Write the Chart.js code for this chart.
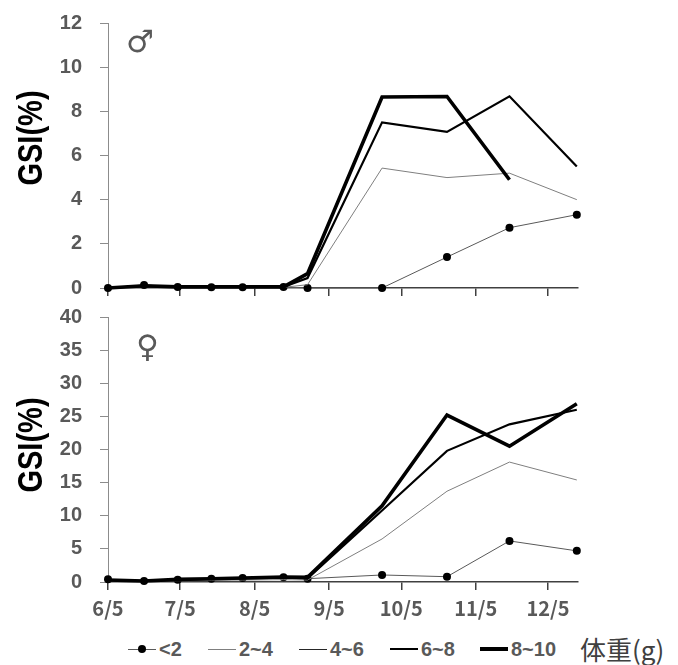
<!DOCTYPE html>
<html>
<head>
<meta charset="utf-8">
<script src="https://cdn.jsdelivr.net/npm/chart.js@4/dist/chart.umd.min.js"></script>
<style>
  html,body{margin:0;padding:0;background:#fff;}
  body{width:678px;height:665px;position:relative;overflow:hidden;font-family:"Liberation Sans",Arial,sans-serif;}
  canvas{position:absolute;left:0;}
  .sym{position:absolute;color:#595959;font-family:"DejaVu Sans",sans-serif;line-height:1;}
  .ytitle{position:absolute;font-family:"Liberation Sans",Arial,sans-serif;font-weight:bold;font-size:35px;color:#000;white-space:nowrap;transform-origin:center center;}
  .lg{position:absolute;top:638px;height:22px;display:flex;align-items:center;}
  .lg .mk{position:relative;width:28px;height:22px;}
  .lg .ln{position:absolute;left:0;right:0;top:50%;}
  .lg .dot{position:absolute;left:50%;top:50%;width:8px;height:8px;margin:-4px 0 0 -4px;border-radius:50%;background:#000;}
  .lg .tx{font-weight:bold;font-size:20px;color:#595959;margin-left:3px;}
  .unit{position:absolute;top:630px;left:580px;font-family:"Noto Sans CJK JP",sans-serif;font-size:26px;color:#404040;}
</style>
</head>
<body>
<canvas id="male" width="678" height="300" style="top:0"></canvas>
<canvas id="female" width="678" height="325" style="top:300px"></canvas>
<div class="sym" style="left:126px;top:26px;font-size:31px;">♂</div>
<div class="sym" style="left:136px;top:331px;font-size:31px;">♀</div>
<div class="ytitle" id="t1">GSI(%)</div>
<div class="ytitle" id="t2">GSI(%)</div>

<div class="lg" style="left:128px;"><div class="mk"><div class="ln" style="border-top:1px solid #595959;"></div><div class="dot"></div></div><span class="tx">&lt;2</span></div>
<div class="lg" style="left:208px;"><div class="mk"><div class="ln" style="border-top:1px solid #7f7f7f;"></div></div><span class="tx">2~4</span></div>
<div class="lg" style="left:299px;"><div class="mk"><div class="ln" style="border-top:1.5px solid #262626;"></div></div><span class="tx">4~6</span></div>
<div class="lg" style="left:390px;"><div class="mk"><div class="ln" style="border-top:2.5px solid #000;margin-top:-1px;"></div></div><span class="tx">6~8</span></div>
<div class="lg" style="left:480px;"><div class="mk"><div class="ln" style="border-top:4px solid #000;margin-top:-2px;"></div></div><span class="tx">8~10</span></div>
<div class="unit">体重(g)</div>

<script>
// ---- data ----
const sampleDates = ['6/5','6/20','7/4','7/18','7/31','8/17','8/27','9/27','10/24','11/19','12/17'];
const monthTicks = ['6/5','7/5','8/5','9/5','10/5','11/5','12/5'];
const seriesNames = ['<2','2~4','4~6','6~8','8~10'];

const maleLt2   = [0, 0.14, 0.04, 0.03, 0.03, 0.05, 0, 0, 1.4, 2.73, 3.32];
const male2to4  = [0, 0.08, 0.04, 0.03, 0.03, 0.03, 0.15, 5.43, 5.0, 5.2, 4.0];
const male4to6  = [];
const male6to8  = [0, 0.1, 0.05, 0.05, 0.05, 0.05, 0.45, 7.5, 7.07, 8.68, 5.5];
const male8to10 = [0, 0.1, 0.05, 0.05, 0.05, 0.05, 0.65, 8.65, 8.67, 4.9, null];

const femLt2   = [0.4, 0.15, 0.35, 0.5, 0.6, 0.7, 0.5, 1.06, 0.8, 6.2, 4.7];
const fem2to4  = [0.2, 0.1, 0.2, 0.25, 0.3, 0.35, 0.3, 6.5, 13.7, 18.1, 15.4];
const fem4to6  = [];
const fem6to8  = [0.3, 0.15, 0.35, 0.45, 0.55, 0.65, 0.55, 10.8, 19.8, 23.8, 26.0];
const fem8to10 = [0.3, 0.15, 0.4, 0.5, 0.6, 0.75, 0.7, 11.5, 25.2, 20.5, 26.9];

// ---- helpers ----
const monthStart = {6:0, 7:30, 8:61, 9:92, 10:122, 11:153, 12:183};
function dayOf(s){ const p = s.split('/').map(Number); return monthStart[p[0]] + p[1] - 5; }
const xs = sampleDates.map(dayOf);
const tickDays = monthTicks.map(dayOf);
function pts(arr){ return arr.map((v,i)=>({x: xs[i], y: v})); }

const styles = [
  {color:'#595959', width:1, radius:4},
  {color:'#7f7f7f', width:1, radius:0},
  {color:'#262626', width:1.5, radius:0},
  {color:'#000000', width:2.2, radius:0},
  {color:'#000000', width:3.6, radius:0}
];

function datasets(arrs){
  return arrs.map((a,i)=>({
    label: seriesNames[i],
    data: pts(a),
    borderColor: styles[i].color,
    borderWidth: styles[i].width,
    pointRadius: styles[i].radius,
    pointBackgroundColor: '#000',
    pointBorderColor: '#000',
    pointBorderWidth: 0,
    tension: 0,
    spanGaps: false,
    clip: false,
    order: 5 - i
  }));
}

function makeChart(id, arrs, ymax, ystep, showX, topPad, xHeight){
  return new Chart(document.getElementById(id), {
    type: 'line',
    data: { datasets: datasets(arrs) },
    options: {
      responsive: false,
      animation: false,
      events: [],
      layout: { padding: { top: topPad, right: 100, left: 0, bottom: 0 } },
      plugins: { legend: { display: false }, tooltip: { enabled: false } },
      scales: {
        x: {
          type: 'linear', min: 0, max: 195.5,
          border: { color: '#404040', width: 1.5 },
          grid: { drawOnChartArea: false, drawTicks: true, tickLength: 8, color: '#404040', lineWidth: 1.5 },
          ticks: {
            display: showX, padding: 6, color: '#595959',
            font: { family: '"Noto Sans CJK JP", sans-serif', size: 20, weight: 'bold' },
            callback: (v) => { const k = tickDays.indexOf(v); return k >= 0 ? monthTicks[k] : ''; }
          },
          afterBuildTicks: (axis) => { axis.ticks = tickDays.map(v => ({ value: v })); },
          afterFit: (s) => { s.height = xHeight; s.paddingLeft = 0; s.paddingRight = 0; }
        },
        y: {
          min: 0, max: ymax,
          border: { color: '#8c8c8c', width: 1 },
          grid: { drawOnChartArea: false, drawTicks: true, tickLength: 8, color: '#8c8c8c' },
          ticks: {
            stepSize: ystep, padding: 18, color: '#595959',
            font: { family: '"Liberation Sans", Arial, sans-serif', size: 20, weight: 'bold' }
          },
          afterFit: (s) => { s.width = 108; s.paddingTop = 8; s.paddingBottom = 8; }
        }
      }
    }
  });
}

const c1 = makeChart('male', [maleLt2, male2to4, male4to6, male6to8, male8to10], 12, 2, false, 23, 12);
const c2 = makeChart('female', [femLt2, fem2to4, fem4to6, fem6to8, fem8to10], 40, 5, true, 17, 43);

function placeTitle(el, cx, cy){
  const w = el.offsetWidth, h = el.offsetHeight;
  el.style.left = (cx - w/2) + 'px';
  el.style.top = (cy - h/2) + 'px';
  el.style.transform = 'rotate(-90deg) scaleX(0.83)';
}
placeTitle(document.getElementById('t1'), 30, 138);
placeTitle(document.getElementById('t2'), 30, 445);
</script>
</body>
</html>
